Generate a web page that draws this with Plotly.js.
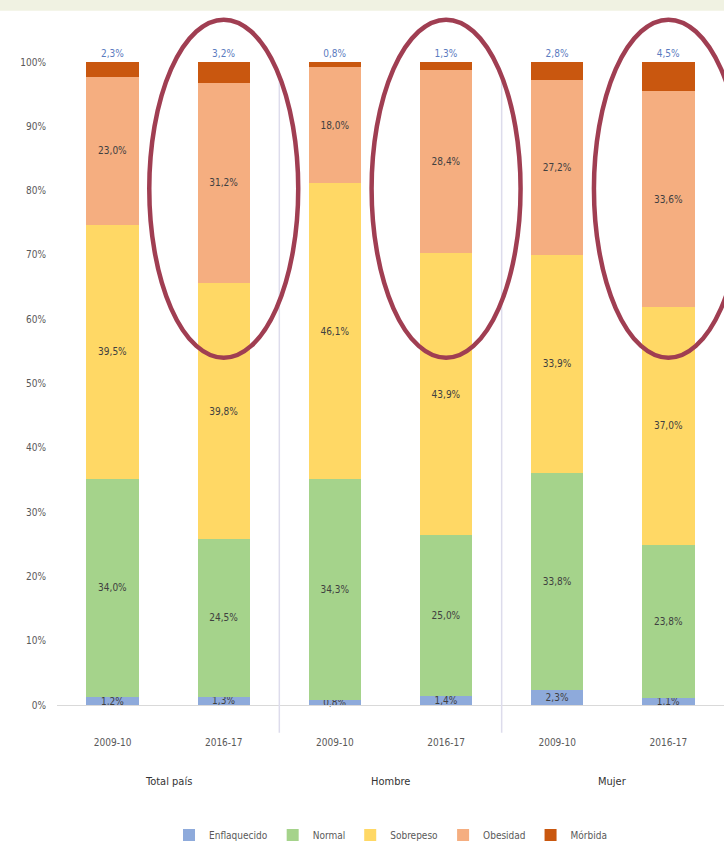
<!DOCTYPE html>
<html>
<head>
<meta charset="utf-8">
<script src="https://cdn.plot.ly/plotly-3.0.1.min.js"></script>
<style>
  html, body { margin: 0; padding: 0; background: #ffffff; }
  #chart { width: 724px; height: 856px; }
</style>
</head>
<body>
<div id="chart"></div>
<script>
// ---- Data ----
const categories = ['2009-10', '2016-17', '2009-10', '2016-17', '2009-10', '2016-17'];
const groups = ['Total país', 'Hombre', 'Mujer'];
const seriesNames = ['Enflaquecido', 'Normal', 'Sobrepeso', 'Obesidad', 'Mórbida'];
const enflaquecido = [1.2, 1.3, 0.8, 1.4, 2.3, 1.1];
const normal       = [34.0, 24.5, 34.3, 25.0, 33.8, 23.8];
const sobrepeso    = [39.5, 39.8, 46.1, 43.9, 33.9, 37.0];
const obesidad     = [23.0, 31.2, 18.0, 28.4, 27.2, 33.6];
const morbida      = [2.3, 3.2, 0.8, 1.3, 2.8, 4.5];
const highlighted  = ['2016-17'];
const yTicks = [0, 10, 20, 30, 40, 50, 60, 70, 80, 90, 100];

// ---- Styles ----
const colors = ['#8eaadb', '#a5d38b', '#ffd865', '#f5ae80', '#c9570f'];
const FONT = 'Liberation Sans Narrow, DejaVu Sans Condensed, Liberation Sans, Arial, sans-serif';
const fmt = v => v.toFixed(1).replace('.', ',') + '%';

const xIdx = categories.map((c, i) => i);
const allSeries = [enflaquecido, normal, sobrepeso, obesidad, morbida];

const traces = allSeries.map((vals, s) => {
  const t = {
    type: 'bar',
    name: seriesNames[s],
    x: xIdx,
    y: vals.map(v => v / 100),
    width: 0.47,
    marker: { color: colors[s], line: { width: 0 } },
    text: vals.map(fmt),
    textfont: { family: FONT, size: 10, color: '#404040' },
    textangle: 0,
    hoverinfo: 'name+text',
    cliponaxis: false
  };
  if (s === 4) {
    t.textposition = 'outside';
    t.textfont = { family: FONT, size: 10, color: '#5b7bc0' };
  } else {
    t.textposition = 'inside';
    t.insidetextanchor = 'middle';
    t.constraintext = 'none';
  }
  return t;
});

// Group labels and highlight ellipses / separators derived from category positions
const annotations = groups.map((g, gi) => ({
  text: g,
  xref: 'x', yref: 'paper',
  x: gi * 2 + 0.5,
  y: -0.122,
  showarrow: false,
  font: { family: FONT, size: 11, color: '#333333' }
}));

const shapes = [];
// light band at top of figure
shapes.push({
  type: 'rect', xref: 'paper', yref: 'paper',
  x0: -0.1, x1: 1.01, y0: 0.999, y1: 1.02,
  fillcolor: '#f0f2e2', line: { width: 0 }, layer: 'below'
});
// group separators
for (let gi = 1; gi < groups.length; gi++) {
  shapes.push({
    type: 'line', xref: 'x', yref: 'paper',
    x0: gi * 2 - 0.5, x1: gi * 2 - 0.5,
    y0: -0.04, y1: 0.91,
    line: { color: '#dddcec', width: 1.5 }
  });
}
// ellipses around the highlighted bars
categories.forEach((c, i) => {
  if (highlighted.includes(c)) {
    shapes.push({
      type: 'circle', xref: 'x', yref: 'y',
      x0: i - 0.67, x1: i + 0.67,
      y0: 0.54, y1: 1.066,
      line: { color: '#a03e52', width: 4.5 },
      layer: 'above'
    });
  }
});

const layout = {
  width: 724,
  height: 856,
  margin: { l: 57, r: 0, t: 10, b: 151 },
  paper_bgcolor: '#ffffff',
  plot_bgcolor: '#ffffff',
  barmode: 'stack',
  showlegend: true,
  legend: {
    orientation: 'h',
    x: 0.5, xanchor: 'center',
    y: -0.187, yanchor: 'middle',
    font: { family: FONT, size: 10, color: '#595959' },
    traceorder: 'normal',
    itemwidth: 30
  },
  xaxis: {
    range: [-0.5, 5.5],
    tickvals: xIdx,
    ticktext: categories,
    showgrid: false,
    zeroline: false,
    showline: true,
    linecolor: '#d9d9d9',
    linewidth: 1,
    ticks: '',
    ticklabelstandoff: 28,
    tickfont: { family: FONT, size: 10, color: '#595959' },
    fixedrange: true
  },
  yaxis: {
    range: [0, 1.081],
    tickvals: yTicks.map(v => v / 100),
    ticktext: yTicks.map(v => v + '%'),
    showgrid: false,
    zeroline: false,
    showline: false,
    ticks: '',
    ticklabelstandoff: 10,
    tickfont: { family: FONT, size: 10, color: '#595959' },
    fixedrange: true
  },
  annotations: annotations,
  shapes: shapes
};

Plotly.newPlot('chart', traces, layout, { displayModeBar: false, staticPlot: true });
</script>
</body>
</html>
